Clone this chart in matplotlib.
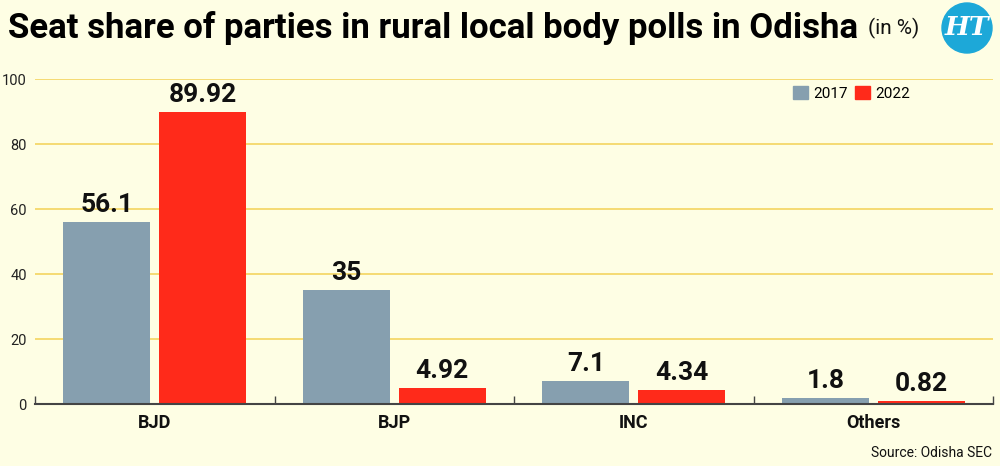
import matplotlib
matplotlib.use("Agg")
import matplotlib.pyplot as plt
from matplotlib.patches import Circle, Patch
import numpy as np

#---------------- dados ----------------
partidos = ["BJD", "BJP", "INC", "Others"]
anos = ["2017", "2022"]
valores_2017 = [56.1, 35, 7.1, 1.8]
valores_2022 = [89.92, 4.92, 4.34, 0.82]
rotulos_2017 = ["56.1", "35", "7.1", "1.8"]
rotulos_2022 = ["89.92", "4.92", "4.34", "0.82"]
yticks = [0, 20, 40, 60, 80, 100]

#---------------- estilo ----------------
FUNDO = "#FEFEE4"
CINZA = "#869FAF"
VERMELHO = "#FF2A1A"
GRADE = "#F4D55F"
plt.rcParams["font.family"] = ["Roboto", "DejaVu Sans"]

fig = plt.figure(figsize=(10, 4.66), dpi=100, facecolor=FUNDO)
ax = fig.add_axes([0.035, 0.133, 0.958, 0.697])
ax.set_facecolor(FUNDO)

x = np.arange(len(partidos))
larg = 0.364
off = 0.2
b1 = ax.bar(x - off, valores_2017, larg, color=CINZA, zorder=3)
b2 = ax.bar(x + off, valores_2022, larg, color=VERMELHO, zorder=3)

for bars, rot in ((b1, rotulos_2017), (b2, rotulos_2022)):
    for b, r in zip(bars, rot):
        ax.text(b.get_x() + b.get_width() / 2, b.get_height() + 1.5, r,
                ha="center", va="bottom", fontsize=19, fontweight="bold",
                color="#111111", zorder=4, clip_on=False)

ax.set_xlim(-0.5, len(partidos) - 0.5)
ax.set_ylim(0, 100)
ax.set_yticks(yticks)
ax.set_yticklabels([str(v) for v in yticks], fontsize=10.5, color="#222222")
ax.tick_params(axis="y", length=0, pad=6)
ax.grid(axis="y", color=GRADE, linewidth=1.2, zorder=0)
ax.set_axisbelow(True)

# ticks de separacao no eixo x
ax.set_xticks(np.arange(-0.5, len(partidos), 1.0))
ax.set_xticklabels([])
ax.tick_params(axis="x", direction="in", length=6, width=1, color="#444444")
for i, p in enumerate(partidos):
    ax.text(i, -3.2, p, ha="center", va="top", fontsize=13, fontweight="bold",
            color="#111111", clip_on=False)

for s in ["top", "right", "left"]:
    ax.spines[s].set_visible(False)
ax.spines["bottom"].set_color("#444444")
ax.spines["bottom"].set_linewidth(1.5)
ax.spines["bottom"].set_zorder(5)

# legenda
handles = [Patch(color=CINZA, label=anos[0]), Patch(color=VERMELHO, label=anos[1])]
ax.legend(handles=handles, loc="center left", bbox_to_anchor=(0.785, 0.957),
          ncol=2, frameon=False, fontsize=11, handlelength=1.0, handleheight=1.0,
          handletextpad=0.3, columnspacing=0.5, borderaxespad=0)

# titulo (ajusta o tamanho para caber na largura do original)
t = fig.text(0.008, 0.94, "Seat share of parties in rural local body polls in Odisha",
             fontsize=30, fontweight="bold", va="center", ha="left", color="#000000")
fig.canvas.draw()
bb = t.get_window_extent()
t.set_fontsize(30 * 848 / bb.width)
fig.canvas.draw()
bb = t.get_window_extent()
fig.text(bb.x1 / 1000 + 0.01, 0.94, "(in %)", fontsize=15, va="center", ha="left",
         color="#111111")

# logo HT
circ = Circle((967, 466 - 28), 25, transform=None, color="#1DA8D8", zorder=10)
fig.patches.append(circ)
fig.text(0.967, 0.94, "HT", fontsize=19, color="white", ha="center", va="center",
         family="DejaVu Serif", style="italic", fontweight="bold", zorder=11)

# fonte
fig.text(0.992, 0.012, "Source: Odisha SEC", fontsize=10, ha="right", va="bottom",
         color="#111111")

fig.savefig("out.png", dpi=100, facecolor=FUNDO)
